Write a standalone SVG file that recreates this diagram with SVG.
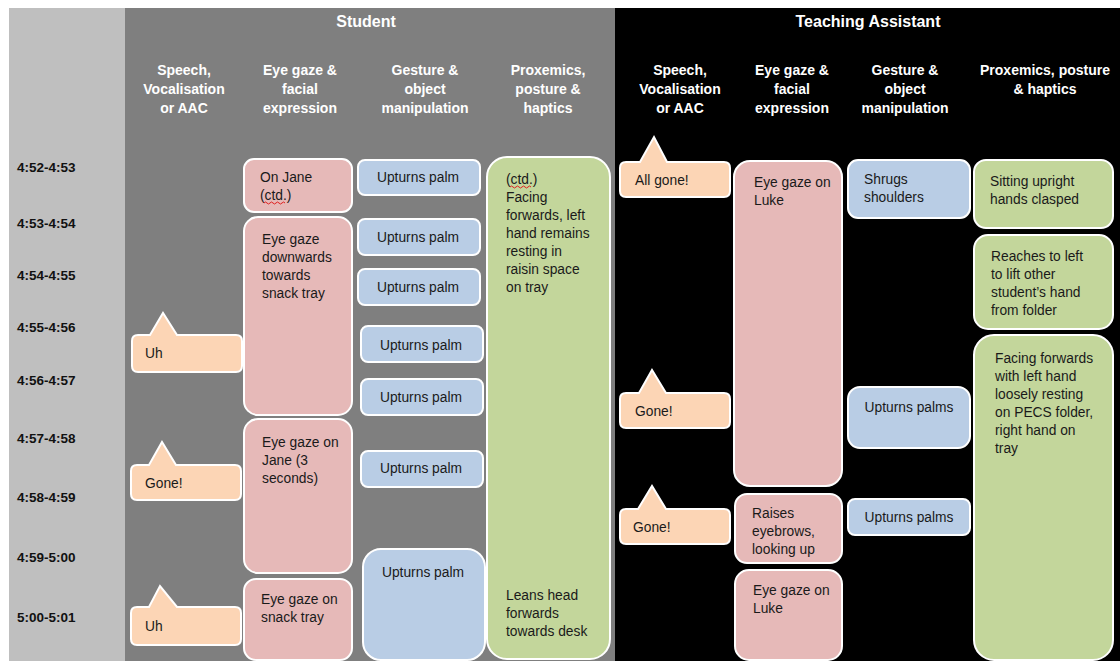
<svg xmlns="http://www.w3.org/2000/svg" width="1120" height="661" viewBox="0 0 1120 661">
<style>
.hd{font-family:"Liberation Sans",Arial,sans-serif;font-weight:bold;fill:#fff;text-anchor:middle}
.h1{font-size:16px}
.h2{font-size:14px}
.tm{font-family:"Liberation Sans",Arial,sans-serif;font-weight:bold;font-size:13.5px;fill:#111}
.tx{font-family:"Liberation Sans",Arial,sans-serif;font-size:13.8px;fill:#1a1a1a}
.c{text-anchor:middle}
.pink{fill:#E6B9B8;stroke:#fff;stroke-width:2}
.blue{fill:#B9CDE5;stroke:#fff;stroke-width:2}
.green{fill:#C3D69B;stroke:#fff;stroke-width:2}
.peach{fill:#FCD5B5;stroke:#fff;stroke-width:2}
.sq{fill:none;stroke:#e02020;stroke-width:1}
</style>
<rect x="0" y="0" width="1120" height="661" fill="#fff"/>
<rect x="9" y="8" width="116" height="653" fill="#BFBFBF"/>
<rect x="125" y="8" width="490" height="653" fill="#7F7F7F"/>
<rect x="615" y="8" width="505" height="653" fill="#000"/>

<g id="headers">
<text class="hd h1" x="366" y="27">Student</text>
<text class="hd h1" x="868" y="27">Teaching Assistant</text>
<text class="hd h2" x="184" y="75">Speech,</text>
<text class="hd h2" x="184" y="94">Vocalisation</text>
<text class="hd h2" x="184" y="113">or AAC</text>
<text class="hd h2" x="300" y="75">Eye gaze &amp;</text>
<text class="hd h2" x="300" y="94">facial</text>
<text class="hd h2" x="300" y="113">expression</text>
<text class="hd h2" x="425" y="75">Gesture &amp;</text>
<text class="hd h2" x="425" y="94">object</text>
<text class="hd h2" x="425" y="113">manipulation</text>
<text class="hd h2" x="548" y="75">Proxemics,</text>
<text class="hd h2" x="548" y="94">posture &amp;</text>
<text class="hd h2" x="548" y="113">haptics</text>
<text class="hd h2" x="680" y="75">Speech,</text>
<text class="hd h2" x="680" y="94">Vocalisation</text>
<text class="hd h2" x="680" y="113">or AAC</text>
<text class="hd h2" x="792" y="75">Eye gaze &amp;</text>
<text class="hd h2" x="792" y="94">facial</text>
<text class="hd h2" x="792" y="113">expression</text>
<text class="hd h2" x="905" y="75">Gesture &amp;</text>
<text class="hd h2" x="905" y="94">object</text>
<text class="hd h2" x="905" y="113">manipulation</text>
<text class="hd h2" x="1045" y="75">Proxemics, posture</text>
<text class="hd h2" x="1045" y="94">&amp; haptics</text>
</g>

<g id="times">
<text class="tm" x="17" y="172">4:52-4:53</text>
<text class="tm" x="17" y="228">4:53-4:54</text>
<text class="tm" x="17" y="280">4:54-4:55</text>
<text class="tm" x="17" y="332">4:55-4:56</text>
<text class="tm" x="17" y="385">4:56-4:57</text>
<text class="tm" x="17" y="443">4:57-4:58</text>
<text class="tm" x="17" y="502">4:58-4:59</text>
<text class="tm" x="17" y="562">4:59-5:00</text>
<text class="tm" x="17" y="622">5:00-5:01</text>
</g>

<g id="student-speech-1">
<path class="peach" d="M138,335 L150,335 L163,313 L177,335 L236,335 Q242,335 242,341 L242,366 Q242,372 236,372 L138,372 Q132,372 132,366 L132,341 Q132,335 138,335 Z"/>
<text class="tx" x="145" y="358">Uh</text>
</g>
<g id="student-speech-2">
<path class="peach" d="M137,465 L149,465 L162,442 L176,465 L235,465 Q241,465 241,471 L241,494 Q241,500 235,500 L137,500 Q131,500 131,494 L131,471 Q131,465 137,465 Z"/>
<text class="tx" x="145" y="488">Gone!</text>
</g>
<g id="student-speech-3">
<path class="peach" d="M137,607 L149,607 L160,586 L177,607 L235,607 Q241,607 241,613 L241,639 Q241,645 235,645 L137,645 Q131,645 131,639 L131,613 Q131,607 137,607 Z"/>
<text class="tx" x="145" y="631">Uh</text>
</g>

<g id="student-gaze-1">
<rect class="pink" x="244" y="159" width="108" height="53" rx="10"/>
<text class="tx" x="260" y="182">On Jane</text>
<text class="tx" x="260" y="200">(ctd.)</text>
<path class="sq" d="M264,203 q1.5,-2 3,0 t3,0 t3,0 t3,0 t3,0 t3,0 t3,0"/>
</g>
<g id="student-gaze-2">
<rect class="pink" x="244" y="217" width="108" height="198" rx="14"/>
<text class="tx" x="262" y="244">Eye gaze</text>
<text class="tx" x="262" y="262">downwards</text>
<text class="tx" x="262" y="280">towards</text>
<text class="tx" x="262" y="298">snack tray</text>
</g>
<g id="student-gaze-3">
<rect class="pink" x="244" y="419" width="108" height="154" rx="14"/>
<text class="tx" x="262" y="447">Eye gaze on</text>
<text class="tx" x="262" y="465">Jane (3</text>
<text class="tx" x="262" y="483">seconds)</text>
</g>
<g id="student-gaze-4">
<rect class="pink" x="244" y="579" width="108" height="81" rx="12"/>
<text class="tx" x="261" y="604">Eye gaze on</text>
<text class="tx" x="261" y="622">snack tray</text>
</g>

<g id="student-gesture-1">
<rect class="blue" x="358" y="160" width="122" height="35" rx="7"/>
<text class="tx c" x="418" y="182">Upturns palm</text>
</g>
<g id="student-gesture-2">
<rect class="blue" x="358" y="219" width="122" height="36" rx="7"/>
<text class="tx c" x="418" y="242">Upturns palm</text>
</g>
<g id="student-gesture-3">
<rect class="blue" x="358" y="269" width="122" height="36" rx="7"/>
<text class="tx c" x="418" y="292">Upturns palm</text>
</g>
<g id="student-gesture-4">
<rect class="blue" x="361" y="326" width="122" height="36" rx="7"/>
<text class="tx c" x="421" y="350">Upturns palm</text>
</g>
<g id="student-gesture-5">
<rect class="blue" x="361" y="379" width="122" height="36" rx="7"/>
<text class="tx c" x="421" y="402">Upturns palm</text>
</g>
<g id="student-gesture-6">
<rect class="blue" x="361" y="451" width="122" height="36" rx="7"/>
<text class="tx c" x="421" y="473">Upturns palm</text>
</g>
<g id="student-gesture-7">
<rect class="blue" x="363" y="549" width="122" height="111" rx="18"/>
<text class="tx c" x="423" y="577">Upturns palm</text>
</g>

<g id="student-posture">
<rect class="green" x="487" y="157" width="123" height="502" rx="20"/>
<text class="tx" x="506" y="184">(ctd.)</text>
<path class="sq" d="M510,187 q1.5,-2 3,0 t3,0 t3,0 t3,0 t3,0 t3,0 t3,0"/>
<text class="tx" x="506" y="202">Facing</text>
<text class="tx" x="506" y="220">forwards, left</text>
<text class="tx" x="506" y="238">hand remains</text>
<text class="tx" x="506" y="256">resting in</text>
<text class="tx" x="506" y="274">raisin space</text>
<text class="tx" x="506" y="292">on tray</text>
<text class="tx" x="506" y="600">Leans head</text>
<text class="tx" x="506" y="618">forwards</text>
<text class="tx" x="506" y="636">towards desk</text>
</g>

<g id="ta-speech-1">
<path class="peach" d="M626,162 L640,162 L654,137 L667,162 L724,162 Q730,162 730,168 L730,191 Q730,197 724,197 L626,197 Q620,197 620,191 L620,168 Q620,162 626,162 Z"/>
<text class="tx" x="635" y="185">All gone!</text>
</g>
<g id="ta-speech-2">
<path class="peach" d="M626,393 L639,393 L652,370 L666,393 L724,393 Q730,393 730,399 L730,422 Q730,428 724,428 L626,428 Q620,428 620,422 L620,399 Q620,393 626,393 Z"/>
<text class="tx" x="635" y="416">Gone!</text>
</g>
<g id="ta-speech-3">
<path class="peach" d="M626,509 L638,509 L652,486 L666,509 L724,509 Q730,509 730,515 L730,538 Q730,544 724,544 L626,544 Q620,544 620,538 L620,515 Q620,509 626,509 Z"/>
<text class="tx" x="633" y="532">Gone!</text>
</g>

<g id="ta-gaze-1">
<rect class="pink" x="734" y="161" width="108" height="325" rx="16"/>
<text class="tx" x="754" y="187">Eye gaze on</text>
<text class="tx" x="754" y="205">Luke</text>
</g>
<g id="ta-gaze-2">
<rect class="pink" x="735" y="494" width="107" height="69" rx="12"/>
<text class="tx" x="752" y="518">Raises</text>
<text class="tx" x="752" y="536">eyebrows,</text>
<text class="tx" x="752" y="554">looking up</text>
</g>
<g id="ta-gaze-3">
<rect class="pink" x="735" y="570" width="107" height="90" rx="14"/>
<text class="tx" x="753" y="595">Eye gaze on</text>
<text class="tx" x="753" y="613">Luke</text>
</g>

<g id="ta-gesture-1">
<rect class="blue" x="848" y="160" width="122" height="58" rx="10"/>
<text class="tx" x="864" y="184">Shrugs</text>
<text class="tx" x="864" y="202">shoulders</text>
</g>
<g id="ta-gesture-2">
<rect class="blue" x="848" y="387" width="122" height="61" rx="12"/>
<text class="tx c" x="909" y="412">Upturns palms</text>
</g>
<g id="ta-gesture-3">
<rect class="blue" x="848" y="499" width="122" height="36" rx="7"/>
<text class="tx c" x="909" y="522">Upturns palms</text>
</g>

<g id="ta-posture-1">
<rect class="green" x="974" y="160" width="139" height="68" rx="12"/>
<text class="tx" x="990" y="186">Sitting upright</text>
<text class="tx" x="990" y="204">hands clasped</text>
</g>
<g id="ta-posture-2">
<rect class="green" x="974" y="235" width="139" height="94" rx="14"/>
<text class="tx" x="991" y="261">Reaches to left</text>
<text class="tx" x="991" y="279">to lift other</text>
<text class="tx" x="991" y="297">student’s hand</text>
<text class="tx" x="991" y="315">from folder</text>
</g>
<g id="ta-posture-3">
<rect class="green" x="974" y="335" width="139" height="325" rx="20"/>
<text class="tx" x="995" y="363">Facing forwards</text>
<text class="tx" x="995" y="381">with left hand</text>
<text class="tx" x="995" y="399">loosely resting</text>
<text class="tx" x="995" y="417">on PECS folder,</text>
<text class="tx" x="995" y="435">right hand on</text>
<text class="tx" x="995" y="453">tray</text>
</g>

<g id="connectors"></g>
</svg>
